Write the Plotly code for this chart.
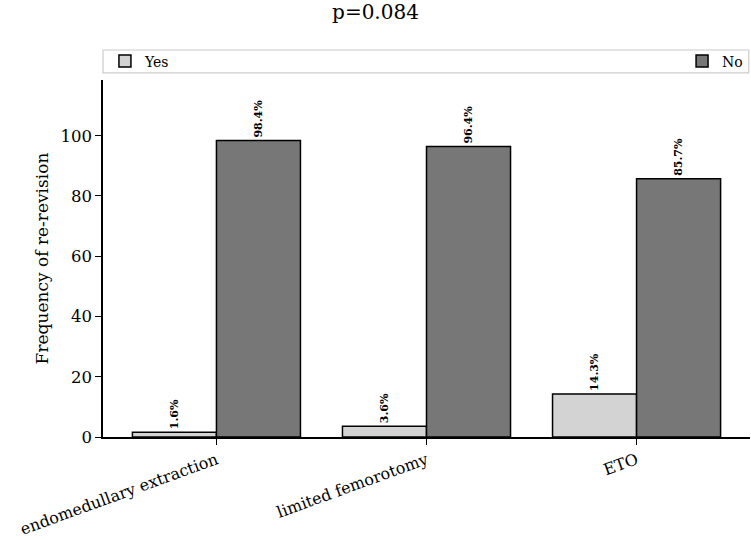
import plotly.graph_objects as go

categories = ["endomedullary extraction", "limited femorotomy", "ETO"]
yes_vals = [1.6, 3.6, 14.3]
no_vals = [98.4, 96.4, 85.7]
yes_labels = ["1.6%", "3.6%", "14.3%"]
no_labels = ["98.4%", "96.4%", "85.7%"]
y_ticks = [0, 20, 40, 60, 80, 100]

FONT = "DejaVu Serif"

fig = go.Figure()
fig.add_trace(go.Bar(
    x=categories, y=yes_vals, name="Yes", text=yes_labels,
    textposition="outside", textangle=-90, cliponaxis=False,
    textfont=dict(family=FONT, size=11, color="black", weight="bold"),
    marker=dict(color="#d3d3d3", line=dict(color="black", width=1.5)),
    legend="legend", showlegend=True,
))
fig.add_trace(go.Bar(
    x=categories, y=no_vals, name="No", text=no_labels,
    textposition="outside", textangle=-90, cliponaxis=False,
    textfont=dict(family=FONT, size=11, color="black", weight="bold"),
    marker=dict(color="#777777", line=dict(color="black", width=1.5)),
    legend="legend2", showlegend=True,
))

fig.update_layout(
    width=751, height=540,
    margin=dict(l=103, r=1, t=80, b=103),
    plot_bgcolor="white", paper_bgcolor="white",
    font=dict(family=FONT, size=16.5, color="black"),
    barmode="group", bargap=0.2, bargroupgap=0,
    showlegend=True,
    title=dict(text="p=0.084", x=0.5, xanchor="center", y=0.978, yanchor="middle",
               font=dict(family=FONT, size=20)),
    uniformtext=dict(minsize=8, mode="show"),
    legend=dict(x=0.003, xanchor="left", y=1.052, yanchor="middle",
                orientation="h", bgcolor="rgba(0,0,0,0)",
                font=dict(family=FONT, size=14)),
    legend2=dict(x=0.997, xanchor="right", y=1.052, yanchor="middle",
                 orientation="h", bgcolor="rgba(0,0,0,0)",
                 font=dict(family=FONT, size=14)),
    xaxis=dict(range=[-0.54, 2.54], showline=True, linecolor="black", linewidth=1.5,
               ticks="outside", ticklen=6, tickwidth=1.2, tickcolor="black",
               tickangle=-20, tickfont=dict(family=FONT, size=16), showgrid=False,
               automargin=False),
    yaxis=dict(range=[0, 118.5], showline=True, linecolor="black", linewidth=1.5,
               ticks="outside", ticklen=6, tickwidth=1.2, tickcolor="black",
               tickvals=y_ticks, tickfont=dict(family=FONT, size=16.5), showgrid=False,
               zeroline=False, automargin=False,
               title=dict(text="Frequency of re-revision", font=dict(family=FONT, size=17),
                          standoff=8)),
    shapes=[dict(type="rect", xref="paper", yref="paper", x0=0.0, x1=0.998,
                 y0=1.02, y1=1.084, line=dict(color="#cccccc", width=1.2),
                 fillcolor="rgba(0,0,0,0)")],
)

fig.write_html("out.html")
